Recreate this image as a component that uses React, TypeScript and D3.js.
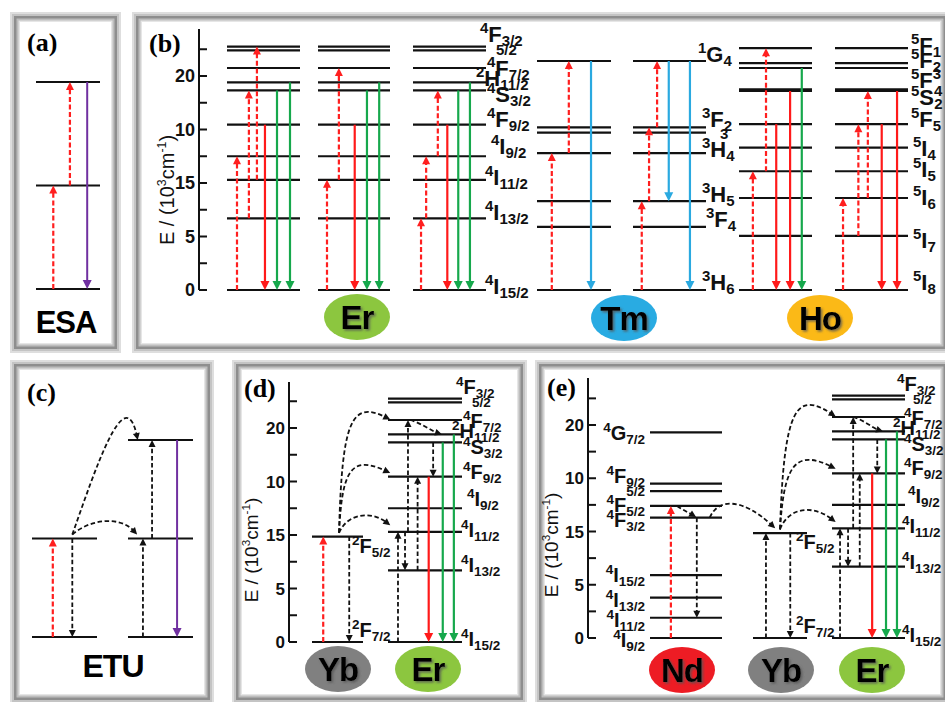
import React from "react";
import * as d3 from "d3";

// ================= DATA =================
const tickValues = [0, 5, 10, 15, 20];
const tickLabels = ["0", "5", "15", "10", "20"]; // as printed in the original figure
const minorTickValues = [2.5, 7.5, 12.5, 17.5, 22.5];

// energies in 10^3 cm^-1
const erLevels = [0, 6.7, 10.3, 12.5, 15.45, 18.65, 19.4, 20.75, 22.4, 22.75];
const tmLevels = [0, 5.9, 8.3, 12.8, 14.7, 15.2, 21.4];
const hoLevels = [0, 5.05, 8.6, 11.1, 13.3, 15.5, 18.6, 18.75, 20.75, 21.2, 22.6];
const ybLevels = [0, 9.85];
const ndLevels = [0, 1.9, 3.8, 5.9, 11.3, 12.4, 13.8, 14.5, 19.3];
const schematicLevels = [0, 1, 2];

type Lbl = { sup?: string; main?: string; sub?: string; sup2?: string; E: number };

const erLabels: Lbl[] = [
  { sup: "4", main: "F", sub: "3/2", E: 22.75 },
  { sub: "5/2", E: 22.4 },
  { sup: "4", main: "F", sub: "7/2", E: 20.75 },
  { sup: "2", main: "H", sub: "11/2", E: 19.4 },
  { sup: "4", main: "S", sub: "3/2", E: 18.65 },
  { sup: "4", main: "F", sub: "9/2", E: 15.45 },
  { sup: "4", main: "I", sub: "9/2", E: 12.5 },
  { sup: "4", main: "I", sub: "11/2", E: 10.3 },
  { sup: "4", main: "I", sub: "13/2", E: 6.7 },
  { sup: "4", main: "I", sub: "15/2", E: 0 },
];
const tmLabels: Lbl[] = [
  { sup: "1", main: "G", sub: "4", E: 21.4 },
  { sup: "3", main: "F", sub: "2", E: 15.2 },
  { sup: "3", E: 14.7 },
  { sup: "3", main: "H", sub: "4", E: 12.8 },
  { sup: "3", main: "H", sub: "5", E: 8.3 },
  { sup: "3", main: "F", sub: "4", E: 5.9 },
  { sup: "3", main: "H", sub: "6", E: 0 },
];
const hoLabels: Lbl[] = [
  { sup: "5", main: "F", sub: "1", E: 22.6 },
  { sup: "5", main: "F", sub: "2", E: 21.2 },
  { sup: "5", main: "F", sup2: "3", E: 18.75 },
  { sup: "5", main: "S", sup2: "4", sub: "2", E: 18.6 },
  { sup: "5", main: "F", sub: "5", E: 15.5 },
  { sup: "5", main: "I", sub: "4", E: 13.3 },
  { sup: "5", main: "I", sub: "5", E: 11.1 },
  { sup: "5", main: "I", sub: "6", E: 8.6 },
  { sup: "5", main: "I", sub: "7", E: 5.05 },
  { sup: "5", main: "I", sub: "8", E: 0 },
];
const ybLabels: Lbl[] = [
  { sup: "2", main: "F", sub: "5/2", E: 9.85 },
  { sup: "2", main: "F", sub: "7/2", E: 0 },
];
const ndLabels: Lbl[] = [
  { sup: "4", main: "G", sub: "7/2", E: 19.3 },
  { sup: "4", main: "F", sub: "9/2", E: 14.5 },
  { sub: "5/2", E: 13.8 },
  { sup: "4", main: "F", sub: "5/2", E: 12.4 },
  { sup: "4", main: "F", sub: "3/2", E: 11.3 },
  { sup: "4", main: "I", sub: "15/2", E: 5.9 },
  { sup: "4", main: "I", sub: "13/2", E: 3.8 },
  { sup: "4", main: "I", sub: "11/2", E: 1.9 },
  { sup: "4", main: "I", sub: "9/2", E: 0 },
];

// transitions: [column, position within column (0..1), from E, to E, kind]
type Tr = [number, number, number, number, string];
const esaArrows: Tr[] = [
  [0, 0.27, 0, 1, "pump"],
  [0, 0.53, 1, 2, "pump"],
  [0, 0.8, 2, 0, "purple"],
];
const etuArrows: Tr[] = [
  [0, 0.32, 0, 1, "pump"],
  [0, 0.62, 1, 0, "black"],
  [1, 0.23, 0, 1, "black"],
  [1, 0.37, 1, 2, "black"],
  [1, 0.755, 2, 0, "purple"],
];
const panelBArrows: Tr[] = [
  [0, 0.137, 0, 12.5, "pump"],
  [0, 0.3, 6.7, 18.65, "pump"],
  [0, 0.41, 10.3, 22.75, "pump"],
  [0, 0.52, 15.45, 0, "red"],
  [0, 0.685, 18.65, 0, "green"],
  [0, 0.863, 19.4, 0, "green"],
  [1, 0.125, 0, 10.3, "pump"],
  [1, 0.29, 10.3, 20.75, "pump"],
  [1, 0.51, 15.45, 0, "red"],
  [1, 0.68, 18.65, 0, "green"],
  [1, 0.85, 19.4, 0, "green"],
  [2, 0.11, 0, 6.7, "pump"],
  [2, 0.18, 6.7, 12.5, "pump"],
  [2, 0.34, 12.5, 18.65, "pump"],
  [2, 0.47, 15.45, 0, "red"],
  [2, 0.62, 18.65, 0, "green"],
  [2, 0.78, 19.4, 0, "green"],
  [3, 0.2, 0, 12.8, "pump"],
  [3, 0.43, 12.8, 21.4, "pump"],
  [3, 0.73, 21.4, 0, "blue"],
  [4, 0.12, 0, 8.3, "pump"],
  [4, 0.22, 8.3, 15.2, "pump"],
  [4, 0.33, 15.2, 21.4, "pump"],
  [4, 0.49, 21.4, 8.3, "blue"],
  [4, 0.78, 21.4, 0, "blue"],
  [5, 0.19, 0, 11.1, "pump"],
  [5, 0.37, 11.1, 22.6, "pump"],
  [5, 0.51, 15.5, 0, "red"],
  [5, 0.7, 18.6, 0, "red"],
  [5, 0.86, 20.75, 0, "green"],
  [6, 0.11, 0, 8.6, "pump"],
  [6, 0.32, 5.05, 15.5, "pump"],
  [6, 0.45, 8.6, 18.6, "pump"],
  [6, 0.64, 15.5, 0, "red"],
  [6, 0.85, 18.6, 0, "red"],
];
const panelDArrows: Tr[] = [
  [0, 0.22, 0, 9.85, "pump"],
  [0, 0.73, 9.85, 0, "black"],
  [1, 0.135, 0, 10.3, "black"],
  [1, 0.27, 10.3, 20.75, "black"],
  [1, 0.23, 10.3, 6.7, "black"],
  [1, 0.4, 6.7, 15.45, "black"],
  [1, 0.61, 18.65, 15.45, "black"],
  [1, 0.55, 15.45, 0, "red"],
  [1, 0.74, 18.65, 0, "green"],
  [1, 0.89, 19.4, 0, "green"],
];
const panelEArrows: Tr[] = [
  [0, 0.29, 0, 12.4, "pump"],
  [0, 0.65, 11.3, 1.9, "black"],
  [1, 0.24, 0, 9.85, "black"],
  [1, 0.69, 9.85, 0, "black"],
  [2, 0.11, 0, 10.3, "black"],
  [2, 0.22, 10.3, 6.7, "black"],
  [2, 0.29, 10.3, 20.75, "black"],
  [2, 0.38, 6.7, 15.45, "black"],
  [2, 0.62, 18.65, 15.45, "black"],
  [2, 0.55, 15.45, 0, "red"],
  [2, 0.74, 18.65, 0, "green"],
  [2, 0.89, 19.4, 0, "green"],
];
// energy transfer (curved) arrows: from [col, f, E], to [col, f, E], control energies
type Cv = { a: [number, number, number]; b: [number, number, number]; c1: [number, number]; c2: [number, number] };
const etuCurves: Cv[] = [
  { a: [0, 0.62, 1.04], b: [1, 0.15, 2.0], c1: [23, 1.7], c2: [-13, 2.61] },
  { a: [0, 0.62, 1.04], b: [1, 0.14, 1.04], c1: [18, 1.2], c2: [-17, 1.23] },
];
const panelDCurves: Cv[] = [
  { a: [0, 0.53, 10.2], b: [1, 0.03, 10.9], c1: [8, 12.0], c2: [-19, 12.3] },
  { a: [0, 0.53, 10.2], b: [1, 0.03, 15.8], c1: [3, 16.1], c2: [-39, 17.5] },
  { a: [0, 0.53, 10.2], b: [1, 0.03, 20.8], c1: [3, 20.7], c2: [-39, 22.6] },
];
const panelDDiag: Cv[] = [
  { a: [1, 0.3, 20.75], b: [1, 0.73, 19.4], c1: [10, 20.5], c2: [-10, 19.7] },
];
const panelECurves: Cv[] = [
  { a: [0, 0.375, 12.4], b: [0, 0.64, 11.35], c1: [6, 12.0], c2: [-6, 11.7] },
  { a: [0, 0.83, 11.3], b: [1, 0.41, 10.3], c1: [8, 13.1], c2: [-33, 13.2] },
  { a: [1, 0.5, 10.2], b: [2, 0.05, 10.9], c1: [8, 12.2], c2: [-24, 12.6] },
  { a: [1, 0.5, 10.2], b: [2, 0.05, 15.9], c1: [4, 16.15], c2: [-41, 17.8] },
  { a: [1, 0.5, 10.2], b: [2, 0.05, 20.8], c1: [4, 21.8], c2: [-39, 23.2] },
  { a: [2, 0.29, 20.75], b: [2, 0.7, 19.4], c1: [10, 20.5], c2: [-10, 19.7] },
];

// ================= STYLE / LAYOUT =================
const SANS = "'Liberation Sans Narrow', 'Liberation Sans', Arial, sans-serif";
const SANS_W = "'Liberation Sans', Arial, sans-serif";
const SERIF = "'Liberation Serif', 'DejaVu Serif', serif";

const KIND: Record<string, { color: string; width: number; dash?: string; head: [number, number] }> = {
  pump: { color: "#ff1f1f", width: 2.2, dash: "5 2.6", head: [8, 8] },
  red: { color: "#ff1a1a", width: 2.2, head: [9, 9] },
  green: { color: "#16a84c", width: 2.2, head: [9, 9] },
  blue: { color: "#2aa9e0", width: 2.2, head: [9, 9] },
  purple: { color: "#7030a0", width: 2, head: [9, 9] },
  black: { color: "#111", width: 1.8, dash: "4.5 2.6", head: [7, 7] },
};

function Head({ x, y, angle, kind }: { x: number; y: number; angle: number; kind: string }) {
  const s = KIND[kind];
  const [L, W] = s.head;
  return (
    <polygon
      points={`0,0 ${-L},${-W / 2} ${-L},${W / 2}`}
      transform={`translate(${x},${y}) rotate(${(angle * 180) / Math.PI})`}
      fill={s.color}
    />
  );
}

function StraightArrow({ x1, y1, x2, y2, kind }: any) {
  const s = KIND[kind];
  const ang = Math.atan2(y2 - y1, x2 - x1);
  const L = s.head[0] * 0.85;
  return (
    <g>
      <line
        x1={x1}
        y1={y1}
        x2={x2 - Math.cos(ang) * L}
        y2={y2 - Math.sin(ang) * L}
        stroke={s.color}
        strokeWidth={s.width}
        strokeDasharray={s.dash}
      />
      <Head x={x2} y={y2} angle={ang} kind={kind} />
    </g>
  );
}

function CurveArrow({ p0, p1, p2, p3, kind }: any) {
  const s = KIND[kind];
  const p = d3.path();
  const ang = Math.atan2(p3[1] - p2[1], p3[0] - p2[0]);
  const L = s.head[0] * 0.7;
  p.moveTo(p0[0], p0[1]);
  p.bezierCurveTo(p1[0], p1[1], p2[0], p2[1], p3[0] - Math.cos(ang) * L, p3[1] - Math.sin(ang) * L);
  return (
    <g>
      <path d={p.toString()} fill="none" stroke={s.color} strokeWidth={s.width} strokeDasharray={s.dash} />
      <Head x={p3[0]} y={p3[1]} angle={ang} kind={kind} />
    </g>
  );
}

function LevelLabel({ x, y, lbl, anchor = "start", big = 19, small = 13 }: any) {
  const parts: any[] = [];
  let cur = 0;
  const supOff = -Math.round(big * 0.42);
  const subOff = Math.round(big * 0.2);
  if (lbl.sup) {
    parts.push(<tspan key="a" fontSize={small} dy={supOff - cur}>{lbl.sup}</tspan>);
    cur = supOff;
  }
  if (lbl.main) {
    parts.push(<tspan key="b" fontSize={big} dy={0 - cur}>{lbl.main}</tspan>);
    cur = 0;
  }
  if (lbl.sup2) {
    parts.push(<tspan key="c" fontSize={small} dy={supOff - cur}>{lbl.sup2}</tspan>);
    cur = supOff;
  }
  if (lbl.sub) {
    parts.push(
      <tspan key="d" fontSize={small} dy={subOff - cur} dx={lbl.sup2 ? -small * 0.55 : 0}>
        {lbl.sub}
      </tspan>
    );
    cur = subOff;
  }
  return (
    <text x={x} y={y} textAnchor={anchor} fontFamily={SANS} fontWeight={700} fill="#111">
      {parts}
    </text>
  );
}

function Frame({ x, y, w, h }: any) {
  const layers: [number, string][] = [
    [0, "#dedede"],
    [2, "#c4c4c4"],
    [4, "#8e8e8e"],
    [6.5, "#bdbdbd"],
    [8.5, "#e6e6e6"],
    [10, "#ffffff"],
  ];
  return (
    <g>
      {layers.map(([i, c]) => (
        <rect key={i} x={x + i} y={y + i} width={w - 2 * i} height={h - 2 * i} fill={c} />
      ))}
    </g>
  );
}

function Axis({ x, y, top, fs }: any) {
  return (
    <g>
      <line x1={x} x2={x} y1={y(0)} y2={top} stroke="#111" strokeWidth={2} />
      {tickValues.concat(minorTickValues).map((v) => (
        <line key={v} x1={x} x2={x + 8} y1={y(v)} y2={y(v)} stroke="#111" strokeWidth={2} />
      ))}
      {tickValues.map((v, i) => (
        <text key={v} x={x - 4} y={y(v) + fs * 0.36} textAnchor="end" fontFamily={SANS_W} fontWeight={700} fontSize={fs} fill="#111">
          {tickLabels[i]}
        </text>
      ))}
    </g>
  );
}

function AxisTitle({ cx, cy, fs }: any) {
  return (
    <text transform={`translate(${cx},${cy}) rotate(-90)`} textAnchor="middle" fontFamily={SANS_W} fontSize={fs} fill="#111">
      E / (10
      <tspan fontSize={fs * 0.62} dy={-fs * 0.4}>3</tspan>
      <tspan dy={fs * 0.4}>cm</tspan>
      <tspan fontSize={fs * 0.62} dy={-fs * 0.4}>-1</tspan>
      <tspan dy={fs * 0.4}>)</tspan>
    </text>
  );
}

function Levels({ col, levels, y, width = 2.2 }: any) {
  const [x1, x2] = col.range();
  return (
    <g>
      {levels.map((E: number, i: number) => (
        <line key={i} x1={x1} x2={x2} y1={y(E)} y2={y(E)} stroke="#111" strokeWidth={width} />
      ))}
    </g>
  );
}

function Transitions({ cols, list, y }: any) {
  return (
    <g>
      {list.map(([c, f, a, b, kind]: Tr, i: number) => {
        const x = cols[c](f);
        return <StraightArrow key={i} x1={x} y1={y(a)} x2={x} y2={y(b)} kind={kind} />;
      })}
    </g>
  );
}

function Curves({ cols, list, y, kind = "black" }: any) {
  return (
    <g>
      {list.map((cv: Cv, i: number) => {
        const p0 = [cols[cv.a[0]](cv.a[1]), y(cv.a[2])];
        const p3 = [cols[cv.b[0]](cv.b[1]), y(cv.b[2])];
        const p1 = [p0[0] + cv.c1[0], y(cv.c1[1])];
        const p2 = [p3[0] + cv.c2[0], y(cv.c2[1])];
        return <CurveArrow key={i} p0={p0} p1={p1} p2={p2} p3={p3} kind={kind} />;
      })}
    </g>
  );
}

function Badge({ cx, cy, text, fill }: any) {
  return (
    <g>
      <ellipse cx={cx} cy={cy} rx={33} ry={23} fill={fill} />
      <text x={cx} y={cy + 12} textAnchor="middle" fontFamily={SANS_W} fontWeight={700} fontSize={33} fill="#000" filter="url(#tshadow)" letterSpacing={-1}>
        {text}
      </text>
    </g>
  );
}

const erOffsets = [[-6, -5], [10, 1], [1, 8], [-10, 4], [1, 12], [1, 2], [5, -2], [-1, 5], [-1, 2], [-1, 4]];
const tmOffsets = [[-8, 1], [-4, 0], [14, 15], [-4, 4], [-4, 1], [0, 0], [-4, 0]];
const hoOffsets = [[3, 5], [3, 5], [3, -1], [3, 14], [3, 3], [5, 8], [5, 6], [5, 7], [5, 12], [5, 0]];
const ybOffsets = [[-11, 16], [-11, -5]];
const ndOffsets = [8, -1, 1, 6, 9, 7, 9, 9, 9];

function Labels({ list, offsets, x, y, big, small }: any) {
  return (
    <g>
      {list.map((l: Lbl, i: number) => (
        <LevelLabel key={i} x={x + offsets[i][0]} y={y(l.E) + offsets[i][1]} lbl={l} big={big} small={small} />
      ))}
    </g>
  );
}

export default function App() {
  // scales
  const yA = d3.scaleLinear().domain([0, 2]).range([289, 82]);
  const yB = d3.scaleLinear().domain([0, 20]).range([290, 76]);
  const yC = d3.scaleLinear().domain([0, 2]).range([637, 440]);
  const yD = d3.scaleLinear().domain([0, 20]).range([642, 428]);
  const yE = d3.scaleLinear().domain([0, 20]).range([638, 425]);
  const col = (a: number, b: number) => d3.scaleLinear().domain([0, 1]).range([a, b]);

  const colsA = [col(36, 100)];
  const colsB = [col(227, 300), col(318, 390), col(413, 486), col(537, 611), col(633, 706), col(739, 812), col(835, 908)];
  const colsC = [col(32, 97), col(128, 193)];
  const colsD = [col(312, 363), col(388, 462)];
  const colsE = [col(650, 722), col(753, 807), col(832, 905)];

  const BIG_B = 22, SMALL_B = 15, BIG_D = 20, SMALL_D = 13.5;

  return (
    <svg width={945} height={702} style={{ position: "absolute", left: 0, top: 0, background: "#fff" }}>
      <defs>
        <filter id="tshadow" x="-20%" y="-20%" width="150%" height="150%">
          <feDropShadow dx={1.6} dy={1.6} stdDeviation={0.8} floodColor="#555" floodOpacity={0.8} />
        </filter>
      </defs>
      <rect width={945} height={702} fill="#fff" />
      <Frame x={10} y={12} w={111} h={341} />
      <Frame x={132} y={12} w={818} h={341} />
      <Frame x={10} y={360} w={204} h={344} />
      <Frame x={232} y={360} w={295} h={344} />
      <Frame x={535} y={360} w={415} h={344} />

      {/* (a) ESA */}
      <text x={27} y={51} fontFamily={SERIF} fontWeight={700} fontSize={26}>(a)</text>
      <Levels col={colsA[0]} levels={schematicLevels} y={yA} />
      <Transitions cols={colsA} list={esaArrows} y={yA} />
      <text x={66} y={333} textAnchor="middle" fontFamily={SANS_W} fontWeight={700} fontSize={31} letterSpacing={-1}>ESA</text>

      {/* (b) */}
      <text x={149} y={52} fontFamily={SERIF} fontWeight={700} fontSize={26}>(b)</text>
      <Axis x={199} y={yB} top={29} fs={18} />
      <AxisTitle cx={174} cy={190} fs={20} />
      {[0, 1, 2].map((i) => <Levels key={i} col={colsB[i]} levels={erLevels} y={yB} />)}
      {[3, 4].map((i) => <Levels key={i} col={colsB[i]} levels={tmLevels} y={yB} />)}
      {[5, 6].map((i) => <Levels key={i} col={colsB[i]} levels={hoLevels} y={yB} />)}
      <Transitions cols={colsB} list={panelBArrows} y={yB} />
      <Labels list={erLabels} offsets={erOffsets} x={486} y={yB} big={BIG_B} small={SMALL_B} />
      <Labels list={tmLabels} offsets={tmOffsets} x={706} y={yB} big={BIG_B} small={SMALL_B} />
      <Labels list={hoLabels} offsets={hoOffsets} x={908} y={yB} big={BIG_B} small={SMALL_B} />
      <Badge cx={357} cy={317} text="Er" fill="#8cc63f" />
      <Badge cx={624} cy={318} text="Tm" fill="#29abe2" />
      <Badge cx={820} cy={318} text="Ho" fill="#fbb917" />

      {/* (c) ETU */}
      <text x={27} y={401} fontFamily={SERIF} fontWeight={700} fontSize={26}>(c)</text>
      {colsC.map((c, i) => (
        <Levels key={i} col={c} levels={i === 0 ? schematicLevels.slice(0, 2) : schematicLevels} y={yC} />
      ))}
      <Curves cols={colsC} list={etuCurves} y={yC} />
      <Transitions cols={colsC} list={etuArrows} y={yC} />
      <text x={113} y={677} textAnchor="middle" fontFamily={SANS_W} fontWeight={700} fontSize={32} letterSpacing={-1}>ETU</text>

      {/* (d) */}
      <text x={244} y={397} fontFamily={SERIF} fontWeight={700} fontSize={26}>(d)</text>
      <Axis x={289} y={yD} top={382} fs={17} />
      <AxisTitle cx={258} cy={550} fs={19} />
      <Levels col={colsD[0]} levels={ybLevels} y={yD} />
      <Levels col={colsD[1]} levels={erLevels} y={yD} />
      <Curves cols={colsD} list={panelDCurves} y={yD} />
      <Curves cols={colsD} list={panelDDiag} y={yD} />
      <Transitions cols={colsD} list={panelDArrows} y={yD} />
      <Labels list={ybLabels} offsets={ybOffsets} x={363} y={yD} big={BIG_D} small={SMALL_D} />
      <Labels list={erLabels} offsets={erOffsets} x={462} y={yD} big={BIG_D} small={SMALL_D} />
      <Badge cx={338} cy={669} text="Yb" fill="#808080" />
      <Badge cx={428} cy={669} text="Er" fill="#8cc63f" />

      {/* (e) */}
      <text x={547} y={396} fontFamily={SERIF} fontWeight={700} fontSize={26}>(e)</text>
      <Axis x={588} y={yE} top={378} fs={17} />
      <AxisTitle cx={558} cy={545} fs={19} />
      <Levels col={colsE[0]} levels={ndLevels} y={yE} />
      <Levels col={colsE[1]} levels={ybLevels} y={yE} />
      <Levels col={colsE[2]} levels={erLevels} y={yE} />
      <Curves cols={colsE} list={panelECurves} y={yE} />
      <Transitions cols={colsE} list={panelEArrows} y={yE} />
      <g>
        {ndLabels.map((l, i) => (
          <LevelLabel key={i} x={645} y={yE(l.E) + ndOffsets[i]} lbl={l} anchor="end" big={BIG_D} small={SMALL_D} />
        ))}
      </g>
      <Labels list={ybLabels} offsets={ybOffsets} x={807} y={yE} big={BIG_D} small={SMALL_D} />
      <Labels list={erLabels} offsets={erOffsets} x={903} y={yE} big={BIG_D} small={SMALL_D} />
      <Badge cx={682} cy={670} text="Nd" fill="#ed1c24" />
      <Badge cx={781} cy={670} text="Yb" fill="#808080" />
      <Badge cx={872} cy={670} text="Er" fill="#8cc63f" />
    </svg>
  );
}
